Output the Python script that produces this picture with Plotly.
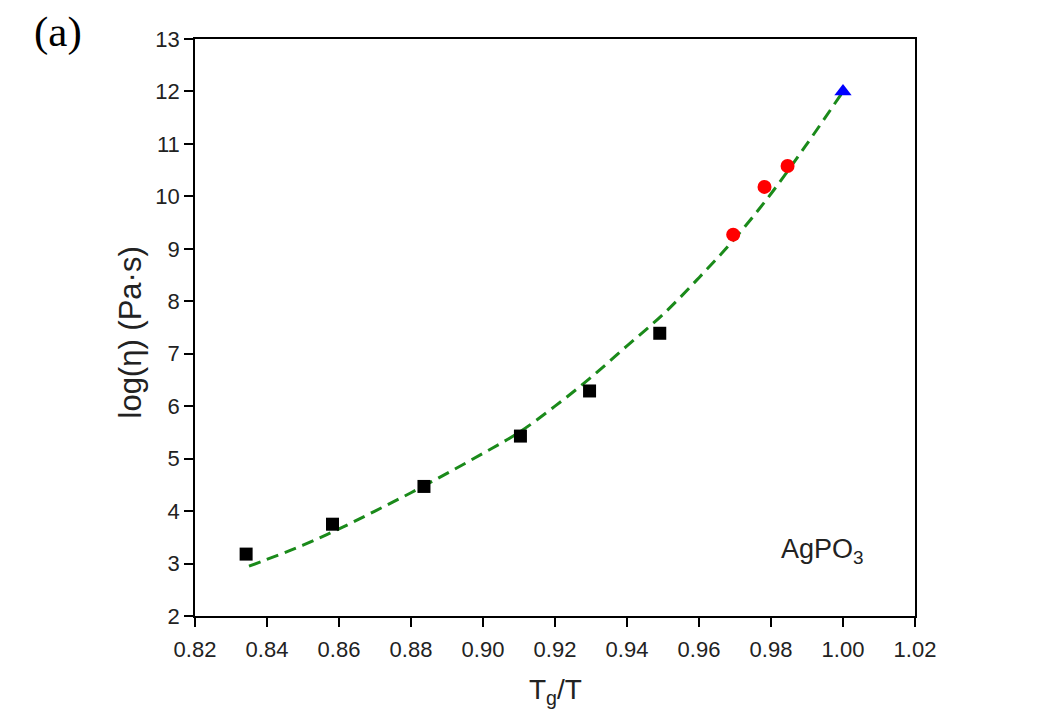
import plotly.graph_objects as go

# Data
sq_x = [0.8342, 0.8582, 0.8836, 0.9104, 0.9296, 0.9491]
sq_y = [3.18, 3.75, 4.47, 5.43, 6.29, 7.39]
circ_x = [0.9695, 0.9782, 0.9846]
circ_y = [9.27, 10.18, 10.58]
tri_x = [1.000]
tri_y = [12.0]
fit_x = [0.835, 0.85, 0.86, 0.87, 0.88, 0.89, 0.90, 0.91, 0.92, 0.93, 0.94, 0.95, 0.96, 0.97, 0.98, 0.99, 1.00]
fit_y = [2.95, 3.35, 3.66, 4.0, 4.35, 4.72, 5.1, 5.5, 6.0, 6.55, 7.15, 7.75, 8.45, 9.2, 10.05, 11.0, 12.0]
x_ticks = [0.82, 0.84, 0.86, 0.88, 0.90, 0.92, 0.94, 0.96, 0.98, 1.00, 1.02]
y_ticks = list(range(2, 14))

FONT = "Liberation Sans, Arial"
fig = go.Figure()
fig.add_trace(go.Scatter(x=fit_x, y=fit_y, mode="lines",
                         line=dict(color="#1a8a1a", width=3, dash="12px,7px", shape="spline"), showlegend=False))
fig.add_trace(go.Scatter(x=sq_x, y=sq_y, mode="markers", marker=dict(symbol="square", size=13, color="black"), showlegend=False))
fig.add_trace(go.Scatter(x=circ_x, y=circ_y, mode="markers", marker=dict(symbol="circle", size=14, color="#ff0000"), showlegend=False))
fig.add_trace(go.Scatter(x=tri_x, y=tri_y, mode="markers", marker=dict(symbol="triangle-up", size=15, color="#0000ff"),
                         showlegend=False, cliponaxis=False))

axis_common = dict(showgrid=False, zeroline=False, showline=True, linecolor="black", linewidth=1.5,
                   mirror=True, ticks="outside", ticklen=9, tickwidth=1.5, tickcolor="black", automargin=False,
                   tickfont=dict(family=FONT, size=22, color="#222"))
fig.update_xaxes(range=[0.82, 1.02], tickvals=x_ticks, ticktext=[f"{v:.2f}" for v in x_ticks],
                 ticklabelstandoff=4, **axis_common)
fig.update_yaxes(range=[2, 13], tickvals=y_ticks, **axis_common)

# axis titles
fig.add_annotation(x=0.5, y=0, xref="paper", yref="paper", yshift=-75, text="T<sub>g</sub>/T", showarrow=False,
                   xanchor="center", yanchor="middle", font=dict(family=FONT, size=28, color="#222"))
fig.add_annotation(x=0, y=0.5, xref="paper", yref="paper", xshift=-65, yshift=-5, text="log(η) (Pa·s)", showarrow=False,
                   textangle=-90, xanchor="center", yanchor="middle", font=dict(family=FONT, size=31, color="#222"))

fig.add_annotation(x=0, y=1.0, xref="paper", yref="paper", xshift=-163, yshift=7, text="(a)", showarrow=False,
                   xanchor="left", yanchor="middle", font=dict(family="Liberation Serif, Times New Roman", size=43, color="black"))
fig.add_annotation(x=0.9942, y=2.88, xref="x", yref="y", text="AgPO<sub>3</sub>", showarrow=False,
                   xanchor="center", yanchor="bottom", font=dict(family=FONT, size=27, color="#222"))

fig.update_layout(width=1041, height=709, margin=dict(l=187, r=134, t=31, b=101),
                  plot_bgcolor="white", paper_bgcolor="white")
fig.write_html("out.html")
